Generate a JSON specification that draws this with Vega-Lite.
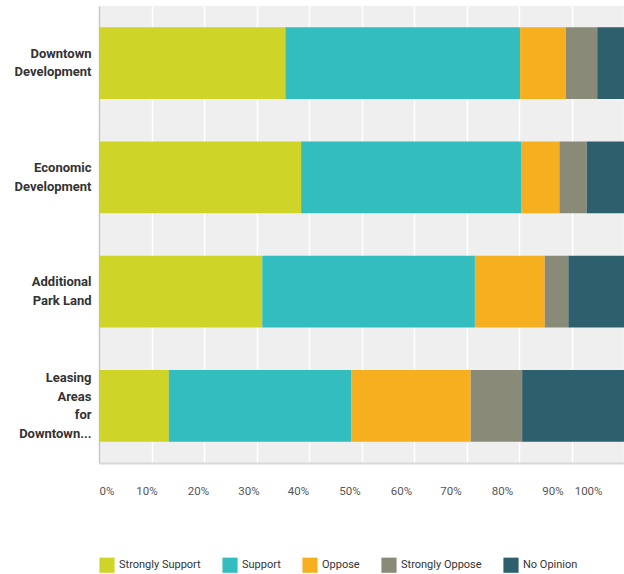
{
  "$schema": "https://vega.github.io/schema/vega-lite/v6.json",
  "autosize": {"type": "none"},
  "padding": {"left": 99, "top": 6, "right": 0, "bottom": 111},
  "width": 525,
  "height": 457,
  "background": "white",
  "data": {"values": [
    {"topic": "Downtown Development", "response": "Strongly Support", "idx": 1, "pct": 35.5},
    {"topic": "Downtown Development", "response": "Support", "idx": 2, "pct": 44.7},
    {"topic": "Downtown Development", "response": "Oppose", "idx": 3, "pct": 8.7},
    {"topic": "Downtown Development", "response": "Strongly Oppose", "idx": 4, "pct": 6.0},
    {"topic": "Downtown Development", "response": "No Opinion", "idx": 5, "pct": 5.1},
    {"topic": "Economic Development", "response": "Strongly Support", "idx": 1, "pct": 38.5},
    {"topic": "Economic Development", "response": "Support", "idx": 2, "pct": 41.9},
    {"topic": "Economic Development", "response": "Oppose", "idx": 3, "pct": 7.3},
    {"topic": "Economic Development", "response": "Strongly Oppose", "idx": 4, "pct": 5.2},
    {"topic": "Economic Development", "response": "No Opinion", "idx": 5, "pct": 7.1},
    {"topic": "Additional Park Land", "response": "Strongly Support", "idx": 1, "pct": 31.1},
    {"topic": "Additional Park Land", "response": "Support", "idx": 2, "pct": 40.5},
    {"topic": "Additional Park Land", "response": "Oppose", "idx": 3, "pct": 13.3},
    {"topic": "Additional Park Land", "response": "Strongly Oppose", "idx": 4, "pct": 4.5},
    {"topic": "Additional Park Land", "response": "No Opinion", "idx": 5, "pct": 10.6},
    {"topic": "Leasing Areas for Downtown...", "response": "Strongly Support", "idx": 1, "pct": 13.3},
    {"topic": "Leasing Areas for Downtown...", "response": "Support", "idx": 2, "pct": 34.8},
    {"topic": "Leasing Areas for Downtown...", "response": "Oppose", "idx": 3, "pct": 22.7},
    {"topic": "Leasing Areas for Downtown...", "response": "Strongly Oppose", "idx": 4, "pct": 9.8},
    {"topic": "Leasing Areas for Downtown...", "response": "No Opinion", "idx": 5, "pct": 19.4}
  ]},
  "mark": {"type": "bar"},
  "encoding": {
    "y": {
      "field": "topic", "type": "nominal",
      "sort": ["Downtown Development", "Economic Development", "Additional Park Land", "Leasing Areas for Downtown..."],
      "scale": {"paddingInner": 0.37, "paddingOuter": 0.185},
      "axis": {
        "title": null,
        "labelExpr": "datum.value == 'Downtown Development' ? ['Downtown','Development'] : datum.value == 'Economic Development' ? ['Economic','Development'] : datum.value == 'Additional Park Land' ? ['Additional','Park Land'] : ['Leasing','Areas','for','Downtown...']",
        "labelFont": "Roboto",
        "labelFontWeight": "bold",
        "labelFontSize": 13,
        "labelLineHeight": 18.7,
        "labelColor": "#333333",
        "labelPadding": 8,
        "labelOffset": {"condition": {"test": "datum.value == 'Leasing Areas for Downtown...'", "value": -28}, "value": -9.4},
        "ticks": false,
        "domain": true,
        "domainColor": "#c8c8c8",
        "domainWidth": 1.5,
        "grid": false
      }
    },
    "x": {
      "field": "pct", "type": "quantitative", "stack": "zero",
      "scale": {"domain": [0, 100], "nice": false},
      "axis": {
        "title": null,
        "values": [0, 10, 20, 30, 40, 50, 60, 70, 80, 90, 100],
        "labelExpr": "datum.value + '%'",
        "labelFont": "Roboto",
        "labelFontSize": 11.5,
        "labelColor": "#555555",
        "labelPadding": 22,
        "labelFlush": true,
        "labelOffset": {"condition": [
          {"test": "datum.value == 0", "value": 0},
          {"test": "datum.value == 10", "value": -5},
          {"test": "datum.value == 20", "value": -6},
          {"test": "datum.value == 30", "value": -8},
          {"test": "datum.value == 40", "value": -11},
          {"test": "datum.value == 50", "value": -12},
          {"test": "datum.value == 60", "value": -13},
          {"test": "datum.value == 70", "value": -16},
          {"test": "datum.value == 80", "value": -17},
          {"test": "datum.value == 90", "value": -19},
          {"test": "datum.value == 100", "value": -22}
        ], "value": -11},
        "ticks": false,
        "domain": true,
        "domainColor": "#d8d8d8",
        "domainWidth": 2,
        "grid": true,
        "gridColor": "#ffffff",
        "gridWidth": 1.5
      }
    },
    "color": {
      "field": "response", "type": "nominal",
      "scale": {
        "domain": ["Strongly Support", "Support", "Oppose", "Strongly Oppose", "No Opinion"],
        "range": ["#cfd428", "#33bdbf", "#f6b01f", "#8a8a78", "#2e5f6c"]
      },
      "legend": {
        "title": null,
        "orient": "bottom",
        "direction": "horizontal",
        "columns": 5,
        "symbolType": "square",
        "symbolSize": 230,
        "symbolStrokeWidth": 0,
        "symbolOpacity": 1,
        "labelFont": "Roboto",
        "labelFontSize": 11,
        "labelColor": "#333333",
        "columnPadding": 21,
        "offset": 60
      }
    },
    "order": {"field": "idx", "type": "quantitative"}
  },
  "config": {
    "view": {"fill": "#efefef", "stroke": null},
    "legend": {"labelLimit": 300}
  }
}
